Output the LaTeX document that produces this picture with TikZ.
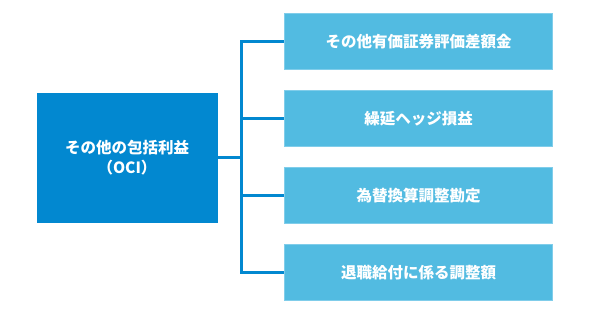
\documentclass[tikz,border=0pt]{standalone}
\usepackage{fontspec}
\setmainfont{Noto Sans CJK JP}
\usepackage{xcolor}
\usepackage{tikz}
\usetikzlibrary{positioning}

\definecolor{ocidark}{HTML}{0288D0}
\definecolor{ocilight}{HTML}{52BBE1}
\definecolor{ociedge}{HTML}{80CDEA}

\begin{document}
\begin{tikzpicture}[x=1pt, y=1pt, node distance=77pt]
\tikzstyle{mainbox} = [rectangle, minimum width=180pt, minimum height=129pt, text centered, align=center, fill=ocidark, draw=ocidark, text=white, font=\bfseries\fontsize{15.5}{20}\selectfont]
\tikzstyle{subbox} = [rectangle, minimum width=268pt, minimum height=56pt, text centered, fill=ocilight, draw=ociedge, line width=1pt, text=white, font=\bfseries\fontsize{15.5}{20}\selectfont]
\tikzstyle{link} = [line width=3pt, draw=ocidark]

\useasboundingbox (0,0) rectangle (600,315);

\node (oci) [mainbox] at (127,157.5) {その他の包括利益\\（OCI）};
\node (sec) [subbox] at (418.5,273.5) {その他有価証券評価差額金};
\node (hedge) [subbox, below of=sec] {繰延ヘッジ損益};
\node (fx) [subbox, below of=hedge] {為替換算調整勘定};
\node (pens) [subbox, below of=fx] {退職給付に係る調整額};

\draw [link] (sec.west) -- ++(-43,0) |- (pens.west);
\draw [link] (hedge.west) -- ++(-43,0);
\draw [link] (fx.west) -- ++(-43,0);
\draw [link] (oci.east) -- ++(25,0);
\end{tikzpicture}
\end{document}
